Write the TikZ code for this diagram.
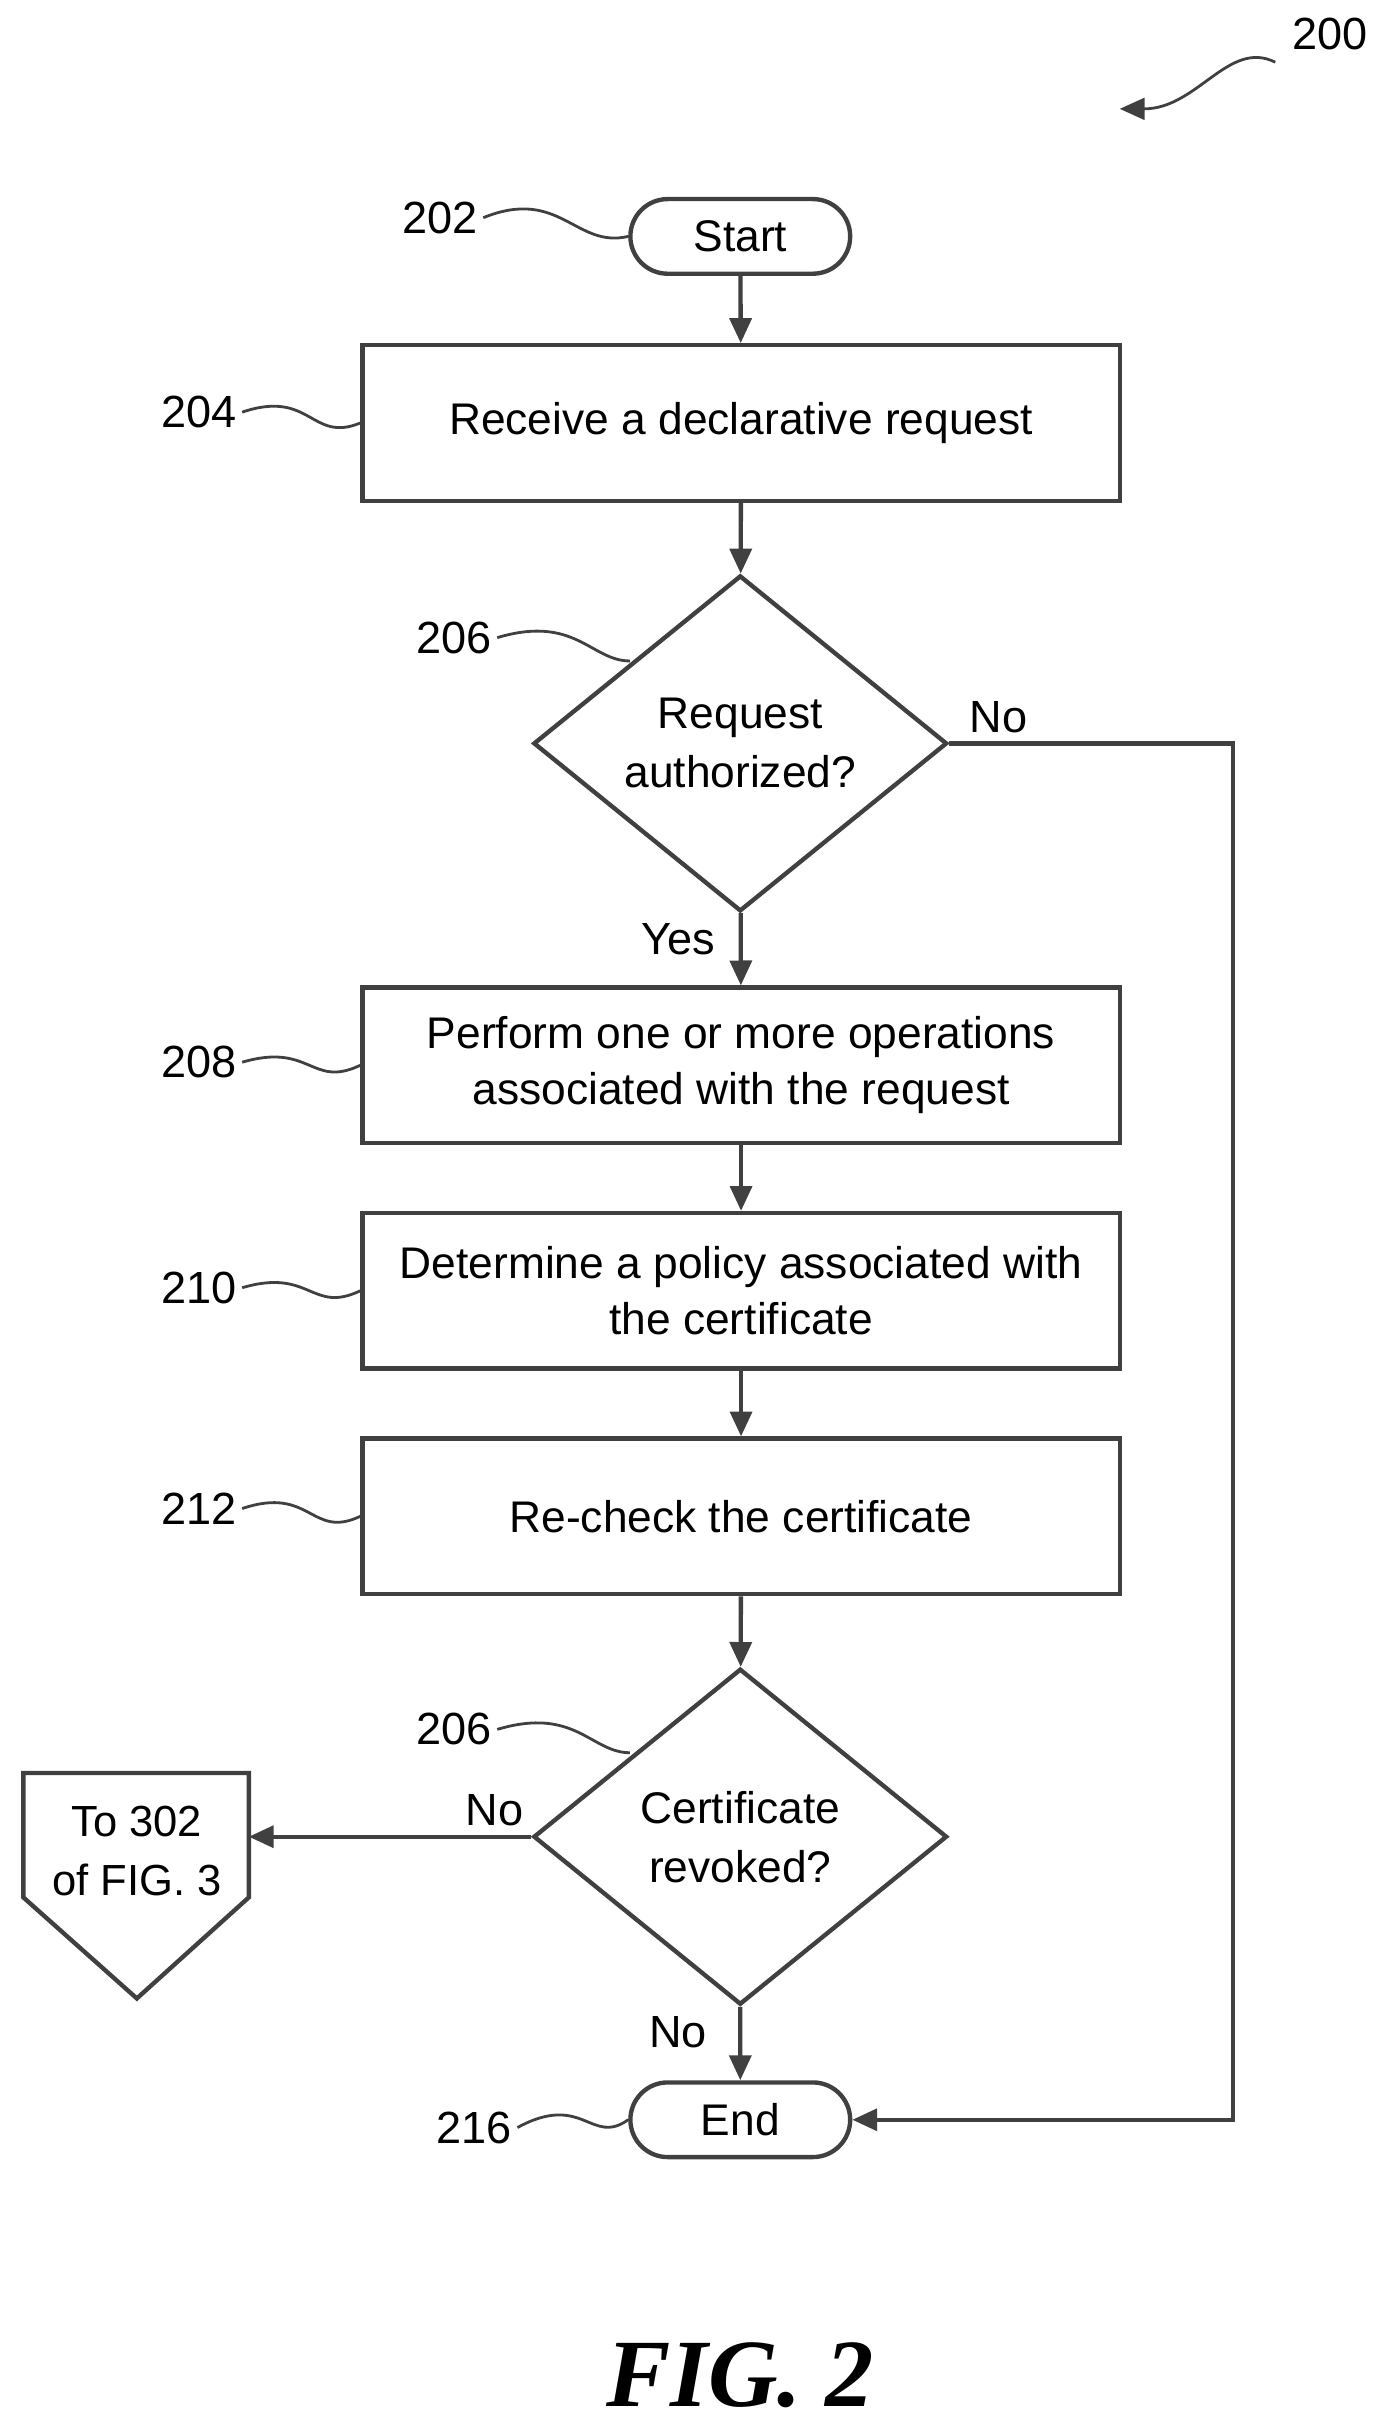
\documentclass[tikz,border=0pt]{standalone}
\usepackage{fontspec}
\setmainfont{Liberation Sans}
\usetikzlibrary{shapes.geometric,shapes.misc,arrows.meta}
\begin{document}
\begin{tikzpicture}[x=1pt,y=-1pt,
  ln/.style={line width=2.8pt,draw=black!75},
  arr/.style={ln,-{Triangle[length=16pt,width=14pt]}},
  box/.style={ln,rectangle,minimum width=487pt,minimum height=100pt,align=center,font=\fontsize{28.5}{36}\selectfont},
  term/.style={ln,rounded rectangle,minimum width=148pt,minimum height=48pt,font=\fontsize{28.5}{30}\selectfont},
  dia/.style={ln,diamond,aspect=1.23,minimum width=266pt,minimum height=216pt,align=center,inner sep=0pt,font=\fontsize{28.5}{38}\selectfont},
  lab/.style={font=\fontsize{29}{30}\selectfont},
  sq/.style={line width=1.8pt,draw=black!75}]
\useasboundingbox (0,0) rectangle (886,1558);
\node[term] (start) at (476,152) {Start};
\node[box] (b204) at (476.5,272) {Receive a declarative request};
\node[dia] (d206) at (476,478) {Request\\authorized?};
\node[box] (b208) at (476.5,685) {Perform one or more operations\\associated with the request};
\node[box] (b210) at (476.5,830) {Determine a policy associated with\\the certificate};
\node[box] (b212) at (476.5,975) {Re-check the certificate};
\node[dia] (d214) at (476,1181) {Certificate\\revoked?};
\node[term] (end) at (476,1363) {End};
\draw[ln] (15,1140) -- (160,1140) -- (160,1220) -- (88,1285) -- (15,1220) -- cycle;
\node[align=center,font=\fontsize{28}{38}\selectfont] (off) at (88,1190) {To 302\\of FIG. 3};
\coordinate (offr) at (160,1181);
\coordinate (c1) at (793,478);
\coordinate (c2) at (793,1363);
\draw[arr] (start) -- (b204);
\draw[arr] (b204) -- (d206);
\draw[arr] (d206) -- (b208);
\draw[arr] (b208) -- (b210);
\draw[arr] (b210) -- (b212);
\draw[arr] (b212) -- (d214);
\draw[arr] (d214) -- (end);
\draw[arr] (d214.west) -- (offr);
\draw[arr] (d206.east) -- (c1) -- (c2) -- (end.east);
\node[lab] (no1) at (642,461) {No};
\node[lab] (yes) at (436,604) {Yes};
\node[lab] (no2) at (318,1164) {No};
\node[lab] (no3) at (436,1307) {No};
\node[lab] (l200) at (855,22) {200};
\node[lab] (l202) at (283,140) {202};
\node[lab] (l204) at (128,265) {204};
\node[lab] (l206) at (292,410) {206};
\node[lab] (l208) at (128,683) {208};
\node[lab] (l210) at (128,828) {210};
\node[lab] (l212) at (128,970) {212};
\node[lab] (l206b) at (292,1112) {206};
\node[lab] (l216) at (305,1368) {216};
\coordinate (a200) at (820,40);
\coordinate (t200) at (720,70);
\draw[sq,-{Triangle[length=16pt,width=14pt]}] (a200) .. controls (790,25) and (770,70) .. (t200);
\draw[sq] (l202.east) .. controls (360,120) and (370,160) .. (start.west);
\draw[sq] (l204.east) .. controls (200,250) and (200,285) .. (b204.west);
\draw[sq] (l206.east) .. controls (370,395) and (380,425) .. (405,425);
\draw[sq] (l208.east) .. controls (200,670) and (200,700) .. (b208.west);
\draw[sq] (l210.east) .. controls (200,815) and (200,845) .. (b210.west);
\draw[sq] (l212.east) .. controls (200,955) and (200,990) .. (b212.west);
\draw[sq] (l206b.east) .. controls (370,1097) and (380,1127) .. (405,1127);
\draw[sq] (l216.east) .. controls (375,1345) and (380,1380) .. (end.west);
\node[font=\fontsize{62}{70}\selectfont\fontspec{Liberation Serif}\bfseries\itshape] (fig) at (476,1527) {FIG. 2};
\end{tikzpicture}
\end{document}
